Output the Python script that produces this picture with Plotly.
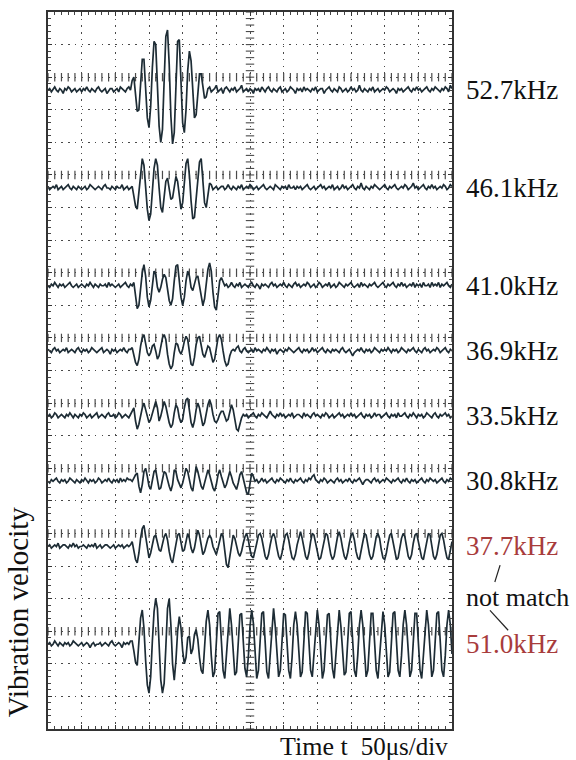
import numpy as np
import plotly.graph_objects as go

# ---------------- data ----------------
freq_labels = ["52.7kHz", "46.1kHz", "41.0kHz", "36.9kHz",
               "33.5kHz", "30.8kHz", "37.7kHz", "51.0kHz"]
label_colors = ["#111111"] * 6 + ["#a83c3c", "#a83c3c"]
baselines = [19.6, 16.6, 13.6, 11.6, 9.6, 7.6, 5.6, 2.6]   # divisions
ref_levels = [20, 17, 14, 12, 10, 8, 6, 3]                  # ticked reference lines
sample_step_us = 2.5        # time between samples (µs)
unit_div = 0.05             # one amplitude unit in divisions

T527 = [0, 1, -1, 1, 2, 0, -1, 1, 0, -2,
        1, 0, 2, 1, -1, 0, 1, -1, 0, 1,
        -1, 1, 0, 2, 0, -1, 1, 0, -1, 1,
        2, 0, -1, 0, 1, -2, 0, 1, 1, -1,
        0, 1, -1, 2, 1, 0, -1, 1, 2, 0,
        6, 8, -4, -13, -12, 4, 19, 19, 2, -17,
        -23, -10, 14, 30, 28, 5, -22, -32, -24, 6,
        33, 37, 16, -16, -33, -26, 4, 30, 31, 9,
        -20, -26, -12, 12, 24, 18, -3, -17, -15, 0,
        10, 10, 2, -5, -4, 1, 2, -1, 0, 1,
        3, -1, 0, 1, -2, 1, 2, 0, -1, 1,
        0, 2, -1, 0, 1, 3, -1, 0, 1, -1,
        1, 0, -2, 1, 0, 1, -1, 2, 0, -1,
        1, 2, 0, -1, 1, 0, -1, 1, 2, -1,
        0, 1, -1, 0, 2, 1, 0, -2, 1, 0,
        1, -1, 2, 0, 1, 0, -1, 1, 0, 2,
        -1, 0, 1, 1, -2, 0, 1, 2, 0, -1,
        1, 0, -1, 2, 1, -1, 0, 1, -1, 0,
        2, 0, 1, -1, 0, 3, 0, -1, 1, 0,
        -1, 1, 0, 2, -1, 0, 1, -1, 0, 1,
        0, 2, 1, -1, 0, 1, 0, -2, 1, 0,
        1, -1, 0, 1, 2, 0, -1, 1, 0, 2,
        0, 1, -1, 0, 1, 2, 0, -1, 1, 0,
        2, 1, 0, -1, 1, 0, 2, 1, -1, 3,
        1]

T461 = [1, -1, 0, 1, 0, 2, -1, 0, 1, -1,
        0, 1, 2, 0, -1, 1, 0, -1, 1, 0,
        -1, 0, 1, -1, 0, 2, 1, 0, -1, 0,
        1, 0, -1, 1, 2, 0, 0, -1, 1, 0,
        -1, 1, 0, 0, 2, -1, 0, 1, -1, 0,
        1, -5, -11, -13, -4, 9, 18, 14, 0, -13,
        -20, -16, -2, 12, 18, 14, 0, -12, -15, -6,
        4, 6, -1, -7, -6, 2, 7, 4, -6, -13,
        -9, 5, 15, 18, 8, -8, -19, -18, -6, 8,
        16, 18, 6, -9, -12, -3, 3, 2, -1, 0,
        1, -1, 0, 1, 1, -1, 0, 2, 0, -1,
        1, 0, -1, 1, 0, 2, -1, 0, 1, 0,
        2, 1, -1, 0, 1, -1, 0, 1, 2, 0,
        -1, 0, 1, 0, -1, 2, 1, 0, -1, 1,
        0, 1, -1, 2, 0, 0, 1, -1, 1, 0,
        1, -1, 0, 1, 2, 0, -1, 0, 1, -1,
        0, 1, 2, 0, 1, -1, 0, 1, 0, 2,
        -1, 0, 1, -1, 0, 2, 0, 1, -1, 0,
        1, 2, 0, -1, 1, 0, 3, 0, -1, 1,
        0, -1, 1, 0, 2, 1, 0, -1, 0, 1,
        2, 0, -1, 1, 0, 1, 2, 0, -1, 0,
        1, 0, 2, 1, -1, 0, 1, 3, 0, 1,
        -1, 0, 1, 2, 0, -1, 1, 0, 2, 0,
        1, -1, 0, 1, 0, 2, 1, -1, 0, 2,
        1]

T410 = [0, -1, 1, 0, 2, 0, -1, 1, 0, 1,
        -1, 0, 1, 2, 0, -1, 0, 1, -1, 0,
        1, 0, -1, 1, 0, 2, 0, -1, 1, 0,
        -1, 1, 0, 0, 1, -1, 2, 0, 1, 0,
        -1, 0, 1, -1, 0, 1, 2, 0, -1, 1,
        0, 2, -6, -14, -12, -2, 8, 13, 6, -7,
        -13, -9, 2, 9, 7, -1, -4, -1, 4, 7,
        5, -3, -9, -12, -8, 3, 12, 13, 4, -7,
        -12, -7, 3, 9, 6, -1, -3, 1, 5, 6,
        0, -8, -12, -8, 2, 10, 14, 9, -4, -13,
        -15, -6, 3, 5, 2, 0, 1, -1, 0, 2,
        0, -1, 1, 0, 2, -1, 0, 1, 0, -1,
        1, 2, 0, -1, 1, 0, -2, 1, 0, 1,
        0, -1, 1, 2, 0, 1, -1, 0, 1, 0,
        2, 0, -1, 1, 0, -1, 1, 2, 0, 1,
        -1, 0, 1, 0, 2, 1, -1, 0, 1, -1,
        0, 2, 1, -1, 0, 1, 0, 2, -1, 0,
        1, -1, 0, 2, 1, 0, -1, 1, 0, 1,
        2, 0, -1, 0, 1, -1, 2, 0, 1, 0,
        -1, 1, 0, 1, 2, 0, -1, 0, 1, 2,
        0, -1, 1, 0, 1, 2, 0, -1, 1, 0,
        2, 0, 1, -1, 0, 1, 0, 2, -1, 1,
        0, 1, -1, 2, 0, 0, 1, -1, 2, 0,
        1, 0, 2, -1, 1, 0, 1, 2, 0, -1,
        1]

T369 = [1, 0, -1, 1, 2, 0, 1, -1, 0, 1,
        0, 2, -1, 0, 1, 0, -1, 1, 2, 0,
        -1, 1, 0, 1, -1, 0, 2, 1, 0, -1,
        0, 1, 2, -1, 0, 1, 0, -2, 1, 0,
        1, -1, 0, 1, 0, 2, 0, -1, 1, 1,
        2, -2, -7, -9, -5, 3, 8, 10, 5, -1,
        -3, -1, 3, 4, 0, -5, -3, 3, 8, 10,
        7, -2, -8, -11, -9, -1, 5, 4, 0, -2,
        1, 6, 9, 7, -2, -8, -9, -4, 4, 8,
        9, 4, -2, -4, -1, 3, 2, -3, -7, -5,
        2, 8, 10, 7, 0, -6, -9, -8, -3, 0,
        1, 0, 2, 3, 0, -1, 1, 2, 0, -1,
        0, 1, -1, 2, 0, 1, 0, -1, 1, 0,
        2, 0, -1, 1, 0, 1, -2, 0, 1, 0,
        -1, 1, 0, 2, 1, 0, -1, 0, 1, 2,
        0, -1, 1, 0, 1, -1, 0, 2, 0, 1,
        -1, 0, 1, 2, 0, -1, 1, 0, -1, 1,
        0, 1, 0, -1, 1, 2, 0, -1, 0, 1,
        -1, -3, -1, 0, 1, 0, 2, 0, -1, 1,
        0, 1, -1, 0, 2, 1, 0, -1, 1, 0,
        1, 0, 2, 0, -1, 1, 0, 1, -1, 0,
        2, 1, 0, -1, 1, 0, 1, 2, 0, -1,
        1, 0, -1, 1, 2, 0, 1, -1, 0, 1,
        0, 2, 1, -1, 0, 1, 2, 0, -1, 1,
        0]

T335 = [0, 1, -1, 0, 2, 1, -1, 0, 1, 0,
        -1, 1, 0, 2, 0, -1, 1, 0, -1, 1,
        0, 2, 1, -1, 0, 1, -1, 0, 1, 2,
        -1, 0, 1, 0, -1, 1, 2, 0, 0, 1,
        -1, 0, 2, 1, -1, 0, 1, 0, -1, 1,
        3, 5, -3, -8, -5, 1, 5, 8, 4, -1,
        -4, -2, 2, 6, 9, 5, -3, 0, 5, 9,
        6, 0, -4, -7, -5, 2, 7, 5, -1, -4,
        -2, 5, 10, 11, 4, -4, -7, -3, 4, 8,
        5, -2, -6, -4, 2, 7, 10, 7, 1, -3,
        -4, -2, 1, 3, 3, 0, -3, -2, 3, 7,
        4, -3, -8, -9, -5, -1, 1, 0, 1, -1,
        0, 1, 2, 0, -1, 1, 0, 2, 1, 0,
        -1, 1, 3, 1, 0, -1, 1, 0, 2, 0,
        1, -1, 0, 1, 0, 2, -1, 0, 1, 1,
        0, -1, 2, 0, 1, 0, -1, 1, 2, 0,
        1, 0, -1, 1, 0, 2, 1, -1, 0, 1,
        -1, 0, 1, 2, 0, 1, -1, 0, 1, 0,
        2, 0, 1, -1, 0, 1, 2, 0, -1, 1,
        0, 1, -1, 0, 2, 0, 1, 1, -1, 0,
        1, 2, 0, -1, 1, 0, 1, -1, 2, 0,
        0, 1, 2, 0, -1, 1, 0, 2, 0, -1,
        1, 0, 1, -1, 0, 2, 1, 0, -1, 1,
        2, 0, -1, 1, 0, 1, 2, 0, 1, -1,
        0]

T308 = [0, -1, 1, 0, 1, 2, 0, -1, 1, 0,
        1, -1, 0, 2, 1, 0, -1, 1, 0, -1,
        1, 0, 2, 0, -1, 1, 0, 1, -1, 0,
        2, 1, -1, 0, 1, 0, 2, 0, -1, 1,
        0, 1, -1, 2, 0, 1, 0, 2, 1, 1,
        0, 2, 4, 5, -3, -7, -2, 6, 8, 3,
        -3, -5, 0, 6, 7, 1, -5, -4, 2, 6,
        5, 0, -3, -6, -2, 7, 6, 1, -2, -4,
        -1, 4, 8, 6, 0, -4, -6, 2, 9, 6,
        1, -3, -5, -1, 4, 7, 4, -1, -4, -6,
        -2, 4, 7, 3, -1, -4, -2, 3, 6, 3,
        -1, -3, -5, -1, 4, 6, 2, -3, -7, -8,
        -1, 5, 3, 0, 1, -1, 0, 2, 0, 1,
        -1, 0, 1, 2, 0, -1, 1, 0, 2, 1,
        0, -1, 1, 0, 2, 0, -1, 1, 0, 1,
        2, 0, -1, 1, 0, 2, 1, 3, 4, 1,
        0, -1, 1, 0, 2, 1, -1, 0, 1, 0,
        -1, 1, 2, 0, 1, -1, 0, 1, 0, 2,
        0, -1, 1, 0, 1, 2, 0, -2, 0, 1,
        1, 0, -1, 1, 2, 0, 1, -1, 0, 1,
        0, 2, 1, 0, -1, 1, 0, 1, 2, 0,
        -1, 1, 0, 2, 0, -1, 1, 0, 1, -1,
        0, 1, 2, 0, -1, 1, 0, 2, 1, 0,
        1, -1, 0, 1, 2, 0, -1, 1, 0, 2,
        1]

T377 = [0, 1, -1, 0, 1, 0, 2, -1, 0, 1,
        1, 0, -1, 1, 0, 2, 0, 1, -1, 0,
        0, 1, 0, -1, 1, 0, 1, 0, 2, -1,
        0, 1, -1, 0, 1, 1, 0, -1, 0, 1,
        -1, 0, 1, 0, 1, -1, 0, 1, 0, 1,
        3, -2, -8, -10, -4, 5, 11, 13, 6, -2,
        -7, -4, 2, 6, 7, 2, -2, -3, 1, 6,
        8, 4, -3, -8, -10, -5, 2, 7, 8, 2,
        -3, -2, 4, 8, 5, -1, -4, -1, 5, 10,
        7, 0, -5, -3, 2, 5, 7, 5, 0, -3,
        -5, -1, 4, 8, 6, -3, -11, -13, -6, 2,
        7, 5, 0, -4, -6, -3, 2, 6, 8, 4,
        -2, -6, -7, -3, 2, 7, 8, 5, -1, -6,
        -8, -5, 1, 6, 8, 5, -1, -6, -8, -4,
        2, 7, 8, 4, -2, -7, -8, -5, 1, 6,
        9, 5, -1, -6, -8, -4, 3, 8, 7, 2,
        -4, -8, -7, -2, 4, 8, 7, 1, -5, -8,
        -6, 0, 6, 9, 5, -1, -6, -8, -4, 2,
        7, 8, 4, -3, -7, -8, -3, 3, 8, 7,
        1, -5, -8, -6, 0, 6, 8, 5, -2, -7,
        -8, -4, 2, 7, 8, 3, -3, -8, -7, -1,
        5, 8, 6, 0, -6, -8, -5, 2, 7, 8,
        3, -3, -7, -8, -3, 4, 8, 7, 0, -6,
        -8, -5, 1, 7, 8, 4, -2, -7, -8, -3,
        3]

T510 = [0, 1, -1, 0, 2, 0, -1, 1, 0, -1,
        1, 0, 1, -1, 0, 2, 1, 0, -1, 0,
        1, -1, 0, 1, 0, -2, 0, 1, -1, 0,
        0, 1, -1, 0, 1, 0, -1, 1, 2, 0,
        -1, 0, 1, 0, -2, 1, 0, 1, 0, 2,
        2, -4, -11, -13, 2, 16, 21, 10, -10, -25,
        -30, -20, 2, 20, 28, 22, 0, -22, -30, -24,
        -2, 22, 28, 12, -12, -22, -10, 8, 17, 10,
        -4, -12, -8, 4, 5, -6, -3, 6, 9, 3,
        -8, -16, -18, -4, 14, 21, 12, -7, -20, -17,
        3, 19, 20, 3, -16, -21, -7, 12, 22, 12,
        -6, -19, -17, 2, 18, 19, 4, -15, -20, -8,
        11, 21, 13, -7, -21, -16, 3, 19, 20, 2,
        -17, -21, -6, 12, 22, 11, -7, -20, -16, 4,
        19, 18, 3, -16, -21, -8, 12, 20, 12, -6,
        -20, -17, 3, 20, 19, 3, -16, -20, -7, 11,
        21, 12, -7, -21, -16, 2, 18, 19, 3, -15,
        -21, -7, 12, 21, 11, -6, -19, -17, 3, 19,
        20, 3, -16, -20, -7, 12, 21, 12, -7, -20,
        -16, 3, 19, 19, 2, -16, -21, -7, 12, 20,
        12, -7, -20, -17, 3, 19, 20, 3, -16, -20,
        -7, 12, 21, 12, -6, -20, -16, 3, 19, 19,
        2, -16, -21, -7, 12, 21, 12, -7, -20, -16,
        3, 19, 20, 3, -16, -20, -7, 12, 21, 12,
        -6]

series = [T527, T461, T410, T369, T335, T308, T377, T510]

# ---------------- figure ----------------
SERIF = "Liberation Serif, Times New Roman, serif"
TRACE_COLOR = "#1d2c35"
GRID_COLOR = "#4a4a4a"

fig = go.Figure()

# ticked reference lines (short vertical ticks every 0.2 div)
tick_x = np.arange(0, 600.01, 10)
for lvl in ref_levels:
    fig.add_trace(go.Scatter(
        x=tick_x, y=np.full(tick_x.shape, float(lvl)), mode="markers",
        marker=dict(symbol="line-ns", size=6, line=dict(color=GRID_COLOR, width=1.2)),
        hoverinfo="skip", showlegend=False))

# centre vertical line with short horizontal ticks
tick_y = np.arange(0, 22.001, 0.2)
fig.add_trace(go.Scatter(
    x=np.full(tick_y.shape, 300.0), y=tick_y, mode="markers",
    marker=dict(symbol="line-ew", size=6, line=dict(color=GRID_COLOR, width=1.1)),
    hoverinfo="skip", showlegend=False))

# waveforms
for vals, base in zip(series, baselines):
    v = np.asarray(vals, dtype=float)
    t = np.arange(len(v)) * sample_step_us
    fig.add_trace(go.Scatter(
        x=t, y=base + v * unit_div, mode="lines",
        line=dict(color=TRACE_COLOR, width=1.7),
        hoverinfo="skip", showlegend=False))

# right-hand labels
for lab, col, base in zip(freq_labels, label_colors, baselines):
    fig.add_annotation(x=1.03, xref="paper", y=base, yref="y",
                       text=lab, showarrow=False, xanchor="left", yanchor="middle",
                       font=dict(family=SERIF, size=27, color=col))
fig.add_annotation(x=1.03, xref="paper", y=4.05, yref="y",
                   text="not match", showarrow=False, xanchor="left", yanchor="middle",
                   font=dict(family=SERIF, size=26, color="#111111"))
# leader strokes from "not match"
fig.add_shape(type="line", xref="paper", yref="y", x0=1.119, y0=5.03, x1=1.106, y1=4.51,
              line=dict(color="#222222", width=1.2))
fig.add_shape(type="line", xref="paper", yref="y", x0=1.094, y0=3.64, x1=1.139, y1=3.03,
              line=dict(color="#222222", width=1.2))

# axis captions
fig.add_annotation(x=-0.074, xref="paper", y=0.163, yref="paper",
                   text="Vibration velocity", textangle=-90, showarrow=False,
                   xanchor="center", yanchor="middle",
                   font=dict(family=SERIF, size=29, color="#111111"))
fig.add_annotation(x=0.569, xref="paper", y=-0.024, yref="paper",
                   text="Time t&nbsp;&nbsp;<span style='font-size:25px'>50μs/div</span>",
                   showarrow=False, xanchor="left", yanchor="middle",
                   font=dict(family=SERIF, size=26, color="#111111"))

grid_dash = "1.5px,5.2px"
fig.update_xaxes(range=[0, 600], dtick=50, tick0=0, showticklabels=False,
                 showgrid=True, gridcolor=GRID_COLOR, gridwidth=1, griddash=grid_dash,
                 zeroline=False, showline=True, linecolor="#333333", linewidth=1.5,
                 mirror="allticks", ticks="inside", ticklen=4, tickcolor="#333333",
                 minor=dict(dtick=10, tick0=0, ticks="inside", ticklen=3,
                            tickcolor="#444444", showgrid=False))
fig.update_yaxes(range=[0, 22], dtick=1, tick0=0, showticklabels=False,
                 showgrid=True, gridcolor=GRID_COLOR, gridwidth=1, griddash=grid_dash,
                 zeroline=False, showline=True, linecolor="#333333", linewidth=1.5,
                 mirror="allticks", ticks="inside", ticklen=4, tickcolor="#333333",
                 minor=dict(dtick=0.2, tick0=0, ticks="inside", ticklen=3,
                            tickcolor="#444444", showgrid=False))

fig.update_layout(width=576, height=760,
                  margin=dict(l=48, r=124, t=10, b=31),
                  paper_bgcolor="white", plot_bgcolor="white",
                  showlegend=False)

fig.write_html("out.html")
